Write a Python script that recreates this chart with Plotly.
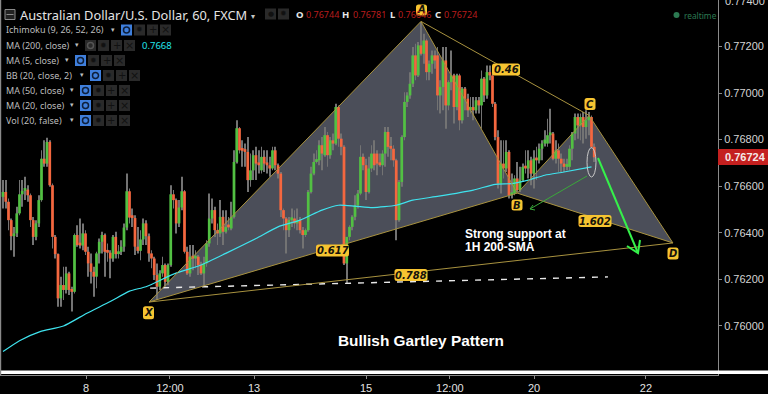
import plotly.graph_objects as go

# quotes in points (1e-5), one entry per hourly candle
opens = [76554,76575,76533,76454,76385,76397,76483,76565,76580,76585,
76561,76454,76382,76440,76540,76718,76697,76790,76604,76382,
76308,76118,76175,76154,76225,76154,76146,76390,76347,76345,
76397,76318,76268,76232,76211,76311,76361,76390,76318,76314,
76289,76382,76308,76318,76340,76422,76578,76465,76463,76340,
76322,76371,76440,76385,76311,76289,76218,76168,76225,76261,
76189,76261,76565,76540,76440,76508,76578,76318,76225,76297,
76289,76297,76261,76225,76268,76354,76461,76497,76411,76397,
76468,76404,76425,76418,76468,76704,76849,76754,76752,76747,
76626,76668,76733,76697,76668,76726,76697,76690,
76676,76754,76690,76654,76497,76461,76411,76454,76461,76440,
76454,76411,76390,76411,76575,76654,76704,76711,76776,76733,
76819,76733,76797,76783,76940,76804,76769,76268,76382,76425,
76468,76518,76568,76726,76690,76575,76676,76740,76740,
76697,76690,76740,76833,76769,76761,76711,76454,76618,76811,
76962,76990,77040,77162,77076,77205,77169,77226,77090,77126,77162,
77162,76990,77026,77140,76947,77047,77076,76940,77076,76883,
77019,76976,76926,76940,76926,76969,76947,77062,76990,77090,
77076,76954,76811,76611,76697,76676,76747,76561,76568,76633,
76583,76626,76683,76676,76711,76654,76718,76711,76761,76783,76783,
76819,76826,76718,76754,76718,76697,76683,76683,76761,76826,76897,
76861,76897,76854,76883,76897,76769]
closes = [76575,76533,76454,76385,76397,76483,76565,76580,76585,76561,
76454,76382,76440,76540,76718,76697,76790,76604,76382,76308,
76118,76175,76154,76225,76154,76146,76390,76347,76345,76397,
76318,76268,76232,76211,76311,76361,76390,76318,76314,76289,
76382,76308,76318,76340,76422,76578,76465,76463,76340,76322,
76371,76440,76385,76311,76289,76218,76168,76225,76261,76189,
76261,76565,76540,76440,76508,76578,76318,76225,76297,76289,
76297,76261,76225,76268,76354,76461,76497,76411,76397,76468,
76404,76425,76423,76468,76704,76849,76754,76752,76747,76626,
76668,76733,76697,76690,76726,76697,76690,76676,
76754,76690,76654,76497,76461,76411,76454,76461,76440,76454,
76411,76390,76411,76575,76654,76704,76711,76776,76740,76819,
76733,76797,76783,76940,76804,76769,76268,76382,76425,76468,
76518,76568,76726,76690,76575,76676,76740,76690,76697,
76690,76740,76833,76769,76761,76711,76454,76618,76811,76962,
76990,77040,77162,77076,77205,77169,77226,77090,77126,77162,77140,
76990,77026,77140,76947,77047,77076,76940,77076,76883,77019,
76976,76926,76940,76926,76969,76947,77062,76990,77090,77076,
76954,76811,76611,76697,76676,76747,76561,76568,76633,76583,
76626,76683,76676,76711,76654,76718,76711,76761,76783,76800,76819,
76826,76718,76754,76718,76697,76683,76690,76761,76826,76897,76861,
76897,76854,76883,76897,76769,76724]
highs = [76626,76626,76547,76461,76425,76511,76626,76626,76640,76604,
76568,76468,76454,76561,76754,76797,76808,76797,76611,76390,
76311,76211,76254,76254,76232,76168,76397,76432,76461,76440,
76411,76340,76311,76254,76318,76375,76404,76397,76354,76325,
76390,76404,76347,76368,76440,76654,76590,76504,76475,76425,
76411,76461,76454,76397,76325,76297,76268,76239,76297,76268,
76268,76604,76583,76547,76540,76640,76583,76340,76347,76347,
76325,76304,76275,76297,76368,76568,76547,76511,76440,76540,
76497,76497,76468,76533,76754,76883,76854,76797,76783,76811,
76740,76754,76769,76754,76769,76754,76754,76726,
76769,76769,76697,76661,76504,76468,76468,76504,76497,76504,
76468,76425,76418,76583,76683,76740,76754,76797,76811,76854,
76833,76811,76826,76954,76947,76826,76776,76382,76432,76475,
76561,76583,76776,76740,76718,76726,76776,76797,76754,
76740,76754,76854,76854,76811,76776,76718,76626,76819,77004,
77004,77090,77198,77212,77219,77305,77255,77233,77140,77183,77183,
77198,77055,77198,77198,77055,77183,77083,77083,77083,77026,
77026,76997,76983,76983,76983,76983,77097,77069,77119,77119,
77083,76962,76840,76797,76797,76797,76754,76654,76647,76704,
76683,76697,76754,76754,76726,76754,76769,76783,76797,76840,76890,
76933,76833,76797,76783,76740,76718,76718,76776,76833,76912,76912,
76912,76919,76926,76919,76904,76783]
lows = [76504,76504,76411,76325,76297,76382,76475,76511,76540,76533,
76425,76347,76368,76425,76533,76683,76683,76597,76332,76289,
76082,76082,76111,76139,76132,76061,76139,76340,76332,76325,
76304,76211,76182,76125,76161,76268,76311,76211,76275,76204,
76275,76289,76289,76304,76318,76411,76440,76425,76304,76311,
76282,76347,76347,76275,76247,76197,76111,76154,76211,76168,
76175,76254,76504,76397,76425,76497,76311,76218,76211,76239,
76247,76218,76218,76168,76254,76340,76440,76382,76347,76382,
76347,76397,76411,76411,76461,76697,76740,76683,76683,76575,
76597,76626,76626,76654,76654,76661,76654,76640,
76668,76668,76633,76468,76411,76311,76382,76425,76418,76411,
76397,76332,76382,76404,76568,76647,76697,76690,76668,76726,
76683,76718,76754,76776,76769,76733,76261,76182,76368,76411,
76454,76504,76561,76668,76540,76568,76661,76668,76647,
76683,76647,76683,76726,76711,76683,76368,76447,76597,76797,
76940,76976,77026,77055,77069,77162,77126,77055,77055,77083,77105,
76926,76912,76926,76847,76926,77012,76869,76926,76840,76869,
76926,76897,76912,76883,76912,76912,76847,76962,76976,77055,
76940,76797,76590,76568,76633,76661,76547,76547,76561,76575,
76575,76618,76654,76633,76604,76590,76626,76697,76711,76770,76769,
76783,76711,76697,76661,76661,76661,76668,76668,76711,76797,76804,
76797,76783,76804,76819,76761,76704]

# 200-period moving average: bar number and value
ma200_bar = [0,6,13.5,22,30.5,39,46,52,62,72,81,92,100,108,116,122,128,134.5,143,149,158.5,171,179,185,191,197,204,214]
ma200_val = [.75889,.75936,.75975,.75999,.76054,.76104,.76149,.76168,.76222,.76261,.76311,.76375,.76425,.76454,.76497,.76518,.76514,.76508,.76518,.76540,.76557,.76583,.76608,.76611,.76626,.76647,.76661,.76683]

# Gartley pattern pivots: bar number and price
pivot_bar = {"X": 53.1, "A": 152.0, "B": 187.0, "C": 213.1, "D": 243.6}
pivot_px = {"X": .76102, "A": .77308, "B": .76570, "C": .76904, "D": .76356}
dashed_bar = [53.5, 220.0]
dashed_px = [.76162, .76210]

tick_bars = [30.2, 60.7, 91.3, 132.0, 162.5, 193.1, 233.8]
tick_text = ["8", "12:00", "13", "15", "12:00", "20", "22"]
price_ticks = [.772, .770, .768, .766, .764, .762, .760]
top_price_label = 0.774
last_price = 0.76724
n = min(len(opens), len(closes), len(highs), len(lows))
bars = list(range(n))

PW, PH = 718, 375
X0, X1 = -1.09, 260.0
Y1, Y0 = 0.774, 0.757885
xd = lambda px: X0 + px * (X1 - X0) / PW
yd = lambda py: Y1 - py * (Y1 - Y0) / PH
XP = lambda px: px / PW
YP = lambda py: 1 - py / PH

UP, DOWN, WICK = "#52c043", "#f4673f", "#737373"
LINE, FILL, BADGE = "#a8923f", "#4b4e59", "#f6c431"

fig = go.Figure()
fig.add_bar(x=bars, base=[lows[i] / 1e5 for i in bars], y=[(highs[i] - lows[i]) / 1e5 for i in bars],
            width=0.3, marker=dict(color=WICK, line_width=0), hoverinfo="skip")
fig.add_bar(x=bars, base=[min(opens[i], closes[i]) / 1e5 for i in bars],
            y=[max(abs(closes[i] - opens[i]), 12) / 1e5 for i in bars], width=1.0,
            marker=dict(color=[UP if closes[i] >= opens[i] else DOWN for i in bars], line_width=0), hoverinfo="skip")

fig.add_scatter(x=ma200_bar, y=ma200_val, mode="lines", line=dict(color="#3fe3ee", width=1.2, shape="spline", smoothing=0.6), hoverinfo="skip")
fig.add_scatter(x=dashed_bar, y=dashed_px, mode="lines", line=dict(color="#e8e8e8", width=1.4, dash="6px,7px"), hoverinfo="skip")
for a, b in ["XA", "AB", "BX", "AC", "BC", "CD", "BD", "XD"]:
    fig.add_scatter(x=[pivot_bar[a], pivot_bar[b]], y=[pivot_px[a], pivot_px[b]], mode="lines",
                    line=dict(color=LINE, width=1), hoverinfo="skip")

# hand-drawn arrows
fig.add_scatter(x=[xd(598), xd(638)], y=[yd(158), yd(253)], mode="lines", line=dict(color="#35f04a", width=2), hoverinfo="skip")
fig.add_scatter(x=[xd(627), xd(638), xd(640)], y=[yd(246), yd(253), yd(240)], mode="lines", line=dict(color="#35f04a", width=2), hoverinfo="skip")
fig.add_scatter(x=[xd(587), xd(530)], y=[yd(176), yd(209)], mode="lines", line=dict(color="#3aa83a", width=1), hoverinfo="skip")
fig.add_scatter(x=[xd(533), xd(530), xd(535)], y=[yd(205), yd(209), yd(210)], mode="lines", line=dict(color="#3aa83a", width=1), hoverinfo="skip")

shapes, notes = [], []


def tri(a, b, c):
    return dict(type="path", layer="below", xref="x", yref="y", line_width=0, fillcolor=FILL,
                path="M %f,%f L %f,%f L %f,%f Z" % (pivot_bar[a], pivot_px[a], pivot_bar[b], pivot_px[b], pivot_bar[c], pivot_px[c]))


shapes += [tri("X", "A", "B"), tri("B", "C", "D")]
# ellipse around the test of the MA
shapes.append(dict(type="circle", xref="x", yref="y", x0=xd(587), x1=xd(596), y0=yd(147.5), y1=yd(177),
                   line=dict(color="#c8c8c8", width=1), fillcolor="rgba(0,0,0,0)"))


def text(px, py, s, size=10, color="#c4c4c4", anchor="left", family="Noto Sans"):
    notes.append(dict(xref="paper", yref="paper", x=XP(px), y=YP(py), text=s, showarrow=False, xanchor=anchor,
                      yanchor="middle", borderpad=0, font=dict(size=size, color=color, family=family)))


def badge(px, py, s, w, h, size=10):
    r = 2.5
    a, b = w / 2, h / 2
    path = (f"M {-a+r},{-b} L {a-r},{-b} Q {a},{-b} {a},{-b+r} L {a},{b-r} Q {a},{b} {a-r},{b} "
            f"L {-a+r},{b} Q {-a},{b} {-a},{b-r} L {-a},{-b+r} Q {-a},{-b} {-a+r},{-b} Z")
    shapes.append(dict(type="path", xref="x", yref="y", xsizemode="pixel", ysizemode="pixel",
                       xanchor=xd(px), yanchor=yd(py), path=path, fillcolor=BADGE, line_width=0))
    text(px, py, f"<b><i>{s}</i></b>", size, "#15130c", "center", "DejaVu Sans")


badge(148.5, 312.7, "X", 11, 13)
badge(421.5, 10, "A", 11, 11)
badge(517, 205, "B", 11, 11)
badge(590, 104, "C", 11, 12)
badge(673, 253.5, "D", 11, 12)
badge(506, 69.5, "0.46", 28, 12)
badge(332.5, 250.5, "0.617", 33, 12)
badge(411, 275, "0.788", 33, 12)
badge(595, 221, "1.602", 33, 12)

text(464, 234, "<b>Strong support at</b>", 12, "#ffffff", family="Liberation Sans")
text(464, 247, "<b>1H 200-SMA</b>", 12, "#ffffff", family="Liberation Sans")
text(421, 340, "<b>Bullish Gartley Pattern</b>", 15.4, "#ffffff", "center", "Liberation Sans")

# header
text(19, 15, "Australian Dollar/U.S. Dollar, 60, FXCM", 12.8, "#e4e4e4")
text(250, 15, "▾", 8, "#c4c4c4")
ohlc = [(295, "O", 305, "0.76744"), (341, "H", 352, "0.76781"), (389, "L", 397, "0.76646"), (434, "C", 443, "0.76724")]
for xa, la, xb, va in ohlc:
    text(xa, 14.5, f"<b>{la}</b>", 9.5, "#e8e8e8", family="Noto Sans")
    text(xb, 14.5, va, 9, "#b81d1d", family="Noto Sans")
text(683, 15, "realtime", 8.3, "#2c7a52")
shapes.append(dict(type="circle", xref="paper", yref="paper", x0=XP(673.5), x1=XP(679.5), y0=YP(18), y1=YP(12),
                   fillcolor="#2c7a52", line_width=0))

rows = [("Ichimoku (9, 26, 52, 26)", 30, 121, True), ("MA (200, close)", 45.5, 85, False), ("MA (5, close)", 60.5, 75, True),
        ("BB (20, close, 2)", 75.5, 90, True), ("MA (50, close)", 90.5, 80, True), ("MA (20, close)", 105.5, 80, True),
        ("Vol (20, false)", 120.5, 80, True)]


def box(px, py, color):
    shapes.append(dict(type="rect", xref="paper", yref="paper", x0=XP(px), x1=XP(px + 11), y0=YP(py + 5.5), y1=YP(py - 5.5),
                       fillcolor=color, line_width=0))


for label, py, ix, on in rows:
    text(4.5, py, label, 9, "#bdbdbd")
    text(ix - 11, py - 1, "▾", 7, "#bdbdbd")
    box(ix, py, "#3f7fdc" if on else "#2a2a2a")
    shapes.append(dict(type="circle", xref="paper", yref="paper", x0=XP(ix + 2.5), x1=XP(ix + 8.5), y0=YP(py + 3), y1=YP(py - 3),
                       line=dict(color="#0e1f3a" if on else "#555555", width=1.5), fillcolor="rgba(0,0,0,0)"))
    box(ix + 13, py, "#2a2a2a")
    text(ix + 18.5, py, "✹", 8, "#111111", "center", "DejaVu Sans")
    box(ix + 26, py, "#2a2a2a")
    text(ix + 31.5, py, "+", 10, "#111111", "center", "DejaVu Sans")
    box(ix + 39, py, "#2a2a2a")
    text(ix + 44.5, py, "×", 11, "#111111", "center", "DejaVu Sans")
text(141, 45, "0.7668", 9.5, "#22e6ee")

for px in (265, 278):
    box(px, 14, "#2a2a2a")
text(270.5, 14, "●", 7, "#111111", "center", "DejaVu Sans")
text(283.5, 14, "✹", 8, "#111111", "center", "DejaVu Sans")
shapes.append(dict(type="rect", xref="paper", yref="paper", x0=XP(5), x1=XP(15), y0=YP(19.5), y1=YP(9.5),
                   line=dict(color="#8a8a8a", width=1), fillcolor="#222222"))
shapes.append(dict(type="line", xref="paper", yref="paper", x0=XP(6.5), x1=XP(13.5), y0=YP(14.5), y1=YP(14.5),
                   line=dict(color="#8a8a8a", width=1)))

# top price label sits half off the page
text(724, 1, f"{top_price_label:.5f}", 11, "#d4d4d4", family="Liberation Sans")

# price tag, frame lines
shapes.append(dict(type="rect", xref="paper", yref="y", x0=1, x1=XP(768), y0=yd(165), y1=yd(149), fillcolor="#c4201f", line_width=0))
text(724, 157.2, f"<b>{last_price:.5f}</b>", 11, "#f5e8e8", family="Liberation Sans")
shapes.append(dict(type="rect", xref="paper", yref="paper", x0=0, x1=XP(768), y0=YP(374), y1=YP(370.6), fillcolor="#ffffff", line_width=0))
shapes.append(dict(type="rect", xref="paper", yref="paper", x0=0, x1=XP(1.2), y0=YP(PH), y1=1, fillcolor="#8a8a8a", line_width=0))

fig.update_layout(
    width=768, height=394, margin=dict(l=0, r=50, t=0, b=19, pad=0), paper_bgcolor="#000000", plot_bgcolor="#000000",
    showlegend=False, barmode="overlay", shapes=shapes, annotations=notes, hovermode=False,
    xaxis=dict(range=[X0, X1], tickmode="array", tickvals=tick_bars, ticktext=tick_text, ticks="outside", ticklen=3,
               tickcolor="#8a8a8a", showgrid=False, zeroline=False, showline=True, linecolor="#8a8a8a", linewidth=1,
               tickfont=dict(family="Liberation Sans", size=11, color="#e2e2e2")),
    yaxis=dict(range=[Y0, Y1], side="right", tickmode="array", tickvals=price_ticks, tickformat=".5f", ticks="outside",
               ticklen=3, tickcolor="#8a8a8a", showgrid=False, zeroline=False, showline=True, linecolor="#8a8a8a", linewidth=1,
               tickfont=dict(family="Liberation Sans", size=11, color="#d4d4d4")),
)
fig.write_html("out.html", post_script="document.body.style.margin='0';document.body.style.overflow='hidden';document.body.style.background='#000';",
               config={"displayModeBar": False})
